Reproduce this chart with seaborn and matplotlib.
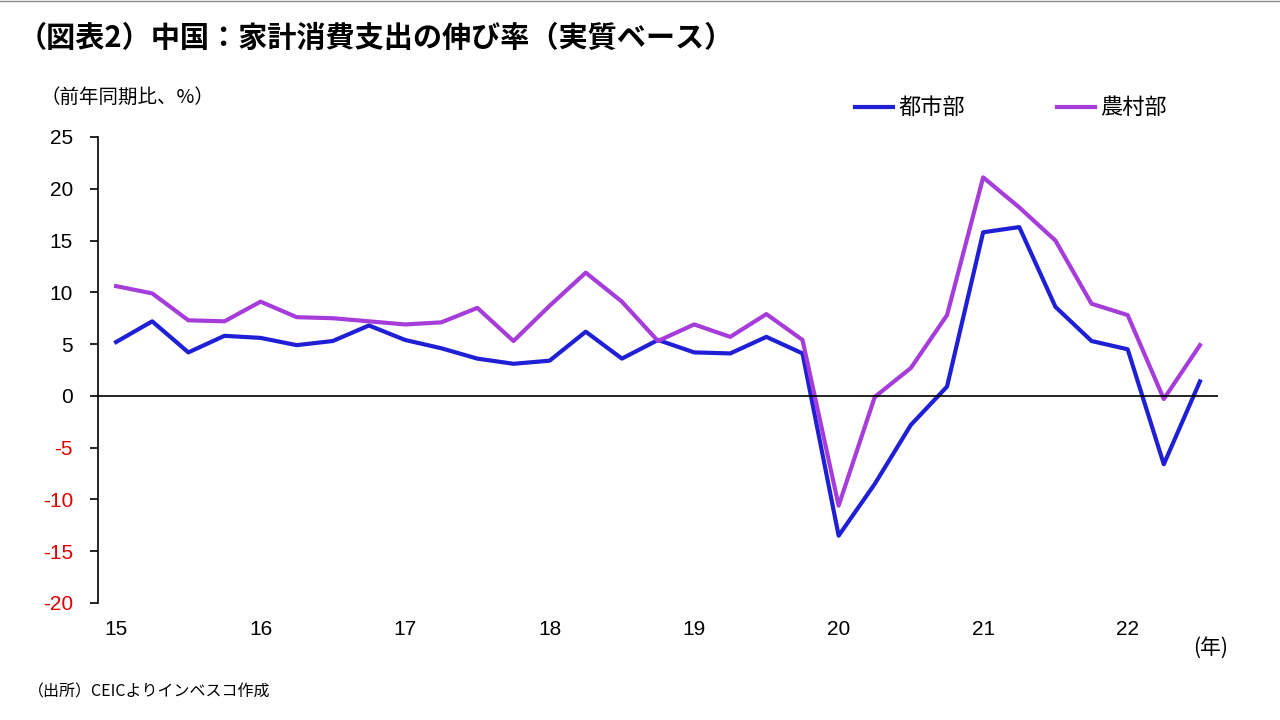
import matplotlib
matplotlib.use("Agg")
import matplotlib.pyplot as plt
import seaborn as sns
import pandas as pd
import numpy as np

plt.rcParams["font.family"] = "Noto Sans CJK JP"

years = ["15", "16", "17", "18", "19", "20", "21", "22"]
urban = [5.2, 7.2, 4.2, 5.8, 5.6, 4.9, 5.3, 6.8, 5.4, 4.6, 3.6, 3.1, 3.4, 6.2, 3.6, 5.4,
         4.2, 4.1, 5.7, 4.1, -13.5, -8.5, -2.8, 0.9, 15.8, 16.3, 8.6, 5.3, 4.5, -6.6, 1.4]
rural = [10.6, 9.9, 7.3, 7.2, 9.1, 7.6, 7.5, 7.2, 6.9, 7.1, 8.5, 5.3, 8.7, 11.9, 9.1, 5.3,
         6.9, 5.7, 7.9, 5.4, -10.6, -0.1, 2.7, 7.8, 21.1, 18.2, 15.0, 8.9, 7.8, -0.3, 4.9]

df = pd.DataFrame({"q": np.arange(len(urban)), "都市部": urban, "農村部": rural})
long = df.melt(id_vars="q", var_name="s", value_name="v")

fig = plt.figure(figsize=(12.8, 7.2), dpi=100)
ax = fig.add_axes([98/1280, 1-603/720, 1120/1280, 466/720])
sns.lineplot(data=long, x="q", y="v", hue="s", palette={"都市部": "#1f1fd6", "農村部": "#a63ddb"},
             linewidth=3, ax=ax, legend=False)
ax.axhline(0, color="black", lw=1.2)
ax.set_xlim(-0.5, 30.5)
ax.set_ylim(-20, 25)
ax.set_yticks(range(-20, 30, 5))
ax.set_yticklabels([str(t) for t in range(-20, 30, 5)], fontsize=15, fontfamily="Liberation Sans")
for lab, t in zip(ax.get_yticklabels(), range(-20, 30, 5)):
    lab.set_color("#e00000" if t < 0 else "black")
ax.set_xticks([])
for i, y in enumerate(years):
    ax.text(i*4, -22.6, y, ha="center", va="center", fontsize=15, fontfamily="Liberation Sans")
ax.text(30.3, -24.3, "(年)", ha="center", va="center", fontsize=15)
for s in ["top", "right", "bottom"]:
    ax.spines[s].set_visible(False)
ax.spines["left"].set_linewidth(1.2)
ax.tick_params(axis="y", direction="out", length=6, width=1.2, pad=12)
ax.set_xlabel(""); ax.set_ylabel("")

fig.text(18/1280, 1-38/720, "（図表2）中国：家計消費支出の伸び率（実質ベース）", fontsize=21, fontweight="bold", va="center")
fig.text(40/1280, 1-97/720, "（前年同期比、%）", fontsize=14, va="center")
fig.text(28/1280, 1-692/720, "（出所）CEICよりインベスコ作成", fontsize=11.5, va="center")
fig.lines.append(plt.Line2D([855/1280, 893/1280], [1-107/720]*2, color="#1f1fd6", lw=3, transform=fig.transFigure))
fig.text(898/1280, 1-107/720, "都市部", fontsize=16, va="center")
fig.lines.append(plt.Line2D([1057/1280, 1095/1280], [1-107/720]*2, color="#a63ddb", lw=3, transform=fig.transFigure))
fig.text(1100/1280, 1-107/720, "農村部", fontsize=16, va="center")
fig.lines.append(plt.Line2D([0, 1], [0.999]*2, color="#888888", lw=1, transform=fig.transFigure))

fig.savefig("out.png", dpi=100)
